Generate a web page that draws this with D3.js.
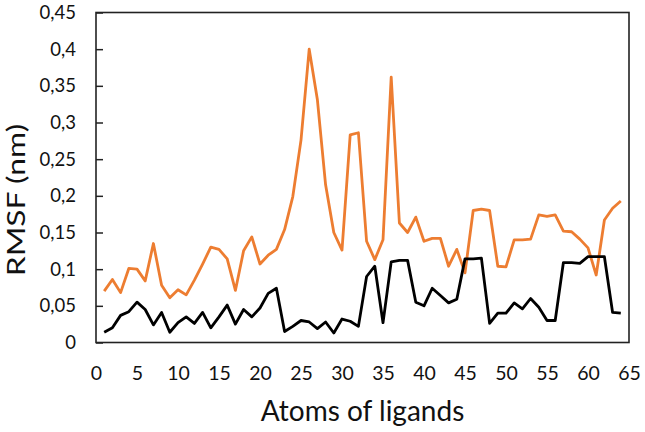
<!DOCTYPE html>
<html lang="en">
<head>
<meta charset="UTF-8">
<title>RMSF</title>
<script src="https://cdn.jsdelivr.net/npm/d3@7/dist/d3.min.js"></script>
<style>
  body { margin: 0; background: #fff; }
  text { font-family: Lato, "Open Sans", sans-serif; fill: #111; }
</style>
</head>
<body>
<script>
    // atom index (x axis)
    const atoms = [1, 2, 3, 4, 5, 6, 7, 8, 9, 10, 11, 12, 13, 14, 15, 16,
        17, 18, 19, 20, 21, 22, 23, 24, 25, 26, 27, 28, 29, 30, 31, 32,
        33, 34, 35, 36, 37, 38, 39, 40, 41, 42, 43, 44, 45, 46, 47, 48,
        49, 50, 51, 52, 53, 54, 55, 56, 57, 58, 59, 60, 61, 62, 63, 64];

    // orange series
    const rmsfOrange = [0.070, 0.086, 0.068, 0.101, 0.100, 0.084, 0.135, 0.078,
        0.061, 0.072, 0.065, 0.085, 0.107, 0.130, 0.127, 0.114,
        0.071, 0.125, 0.144, 0.107, 0.119, 0.127, 0.154, 0.199,
        0.276, 0.400, 0.331, 0.215, 0.150, 0.126, 0.283, 0.286,
        0.138, 0.113, 0.140, 0.362, 0.163, 0.150, 0.171, 0.138,
        0.142, 0.142, 0.104, 0.127, 0.095, 0.180, 0.182, 0.180,
        0.104, 0.103, 0.140, 0.140, 0.141, 0.174, 0.172, 0.174,
        0.152, 0.151, 0.141, 0.129, 0.092, 0.167, 0.183, 0.193];

    // black series
    const rmsfBlack = [0.014, 0.020, 0.037, 0.042, 0.055, 0.045, 0.024, 0.041,
        0.014, 0.027, 0.035, 0.026, 0.041, 0.020, 0.035, 0.051,
        0.025, 0.045, 0.035, 0.047, 0.067, 0.074, 0.015, 0.022,
        0.030, 0.028, 0.019, 0.028, 0.013, 0.032, 0.029, 0.022,
        0.090, 0.104, 0.027, 0.110, 0.112, 0.112, 0.055, 0.050,
        0.074, 0.064, 0.054, 0.059, 0.114, 0.114, 0.115, 0.026,
        0.040, 0.040, 0.054, 0.046, 0.060, 0.048, 0.030, 0.030,
        0.109, 0.109, 0.108, 0.117, 0.117, 0.117, 0.041, 0.040];

    const xTicks = [0, 5, 10, 15, 20, 25, 30, 35, 40, 45, 50, 55, 60, 65];
    const yTicks = [0, 0.05, 0.1, 0.15, 0.2, 0.25, 0.3, 0.35, 0.4, 0.45];

    const width = 645;
    const height = 432;
    const margin = {left: 96, right: 16, top: 12.5, bottom: 89.5};

    let svg = d3.select('body')
        .append('svg')
        .attr('width', width)
        .attr('height', height);

    let x = d3.scaleLinear()
        .domain([0, 65])
        .range([margin.left, width - margin.right]);

    let y = d3.scaleLinear()
        .domain([0, 0.45])
        .range([height - margin.bottom, margin.top]);

    // y ticks pointing into the plot
    let yAxis = d3.axisLeft(y)
        .tickValues(yTicks)
        .tickSize(-7)
        .tickPadding(20)
        .tickFormat(d => String(+d.toFixed(2)).replace('.', ','));

    let gy = svg.append('g')
        .attr('transform', `translate(${margin.left},0)`)
        .call(yAxis);
    gy.select('.domain').remove();
    gy.selectAll('line').attr('stroke', '#222').attr('stroke-width', 1.5);
    gy.selectAll('text').style('font-size', '18.5px').attr('fill', '#111');

    let xAxis = d3.axisBottom(x)
        .tickValues(xTicks)
        .tickSize(0)
        .tickPadding(24);

    let gx = svg.append('g')
        .attr('transform', `translate(0,${height - margin.bottom})`)
        .call(xAxis);
    gx.select('.domain').remove();
    gx.selectAll('text').style('font-size', '19.5px').attr('fill', '#111');

    // frame
    svg.append('rect')
        .attr('x', x(0))
        .attr('y', y(0.45))
        .attr('width', x(65) - x(0))
        .attr('height', y(0) - y(0.45))
        .attr('fill', 'none')
        .attr('stroke', '#222')
        .attr('stroke-width', 1.6);

    let line = d3.line()
        .x((d, i) => x(atoms[i]))
        .y(d => y(d));

    svg.append('path')
        .datum(rmsfOrange)
        .attr('fill', 'none')
        .attr('stroke', '#ED7D31')
        .attr('stroke-width', 2.8)
        .attr('stroke-linejoin', 'round')
        .attr('d', line);

    svg.append('path')
        .datum(rmsfBlack)
        .attr('fill', 'none')
        .attr('stroke', '#000')
        .attr('stroke-width', 2.8)
        .attr('stroke-linejoin', 'round')
        .attr('d', line);

    // axis titles (the source picture is a bit stretched vertically)
    svg.append('text')
        .attr('x', (x(0) + x(65)) / 2)
        .attr('y', 421)
        .attr('text-anchor', 'middle')
        .style('font-size', '28px')
        .text('Atoms of ligands');

    svg.append('text')
        .attr('transform', 'translate(25,200) rotate(-90) scale(1.3,1)')
        .attr('text-anchor', 'middle')
        .style('font-size', '24.5px')
        .text('RMSF (nm)');
</script>
</body>
</html>
